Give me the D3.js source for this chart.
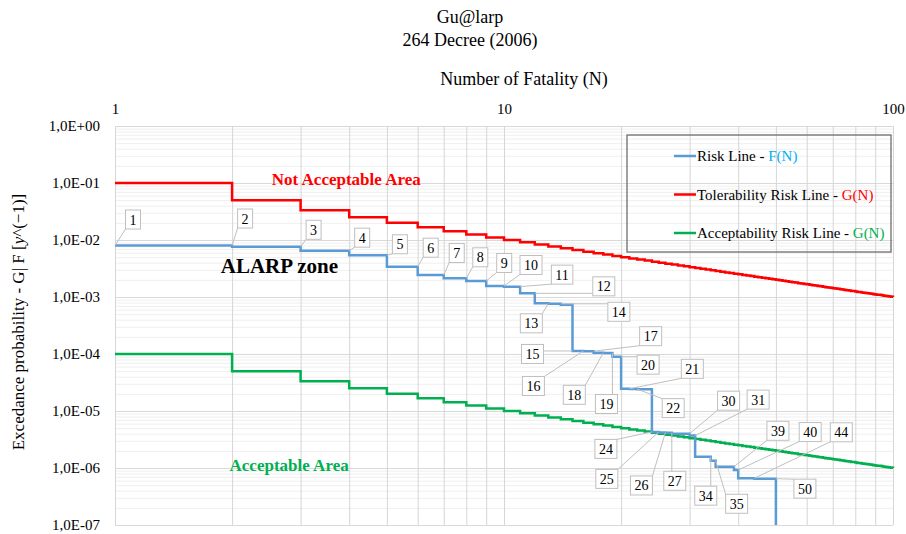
<!DOCTYPE html>
<html>
<head>
<meta charset="utf-8">
<script src="https://cdn.jsdelivr.net/npm/d3@7"></script>
<style>
  body { margin: 0; background: #fff; }
  text { font-family: "Liberation Serif", "Times New Roman", serif; }
</style>
</head>
<body>
<div id="chart-area"></div>
<script>
// number of fatalities N on the x axis
const fatalityN = d3.range(1, 101);

// Tolerability risk line G(N), one value per N = 1..100
const tolerabilityG = [
  1.00e-1, 5.00e-2, 3.33e-2, 2.50e-2, 2.00e-2, 1.67e-2, 1.43e-2, 1.25e-2, 1.11e-2, 1.00e-2,
  9.09e-3, 8.33e-3, 7.69e-3, 7.14e-3, 6.67e-3, 6.25e-3, 5.88e-3, 5.56e-3, 5.26e-3, 5.00e-3,
  4.76e-3, 4.55e-3, 4.35e-3, 4.17e-3, 4.00e-3, 3.85e-3, 3.70e-3, 3.57e-3, 3.45e-3, 3.33e-3,
  3.23e-3, 3.13e-3, 3.03e-3, 2.94e-3, 2.86e-3, 2.78e-3, 2.70e-3, 2.63e-3, 2.56e-3, 2.50e-3,
  2.44e-3, 2.38e-3, 2.33e-3, 2.27e-3, 2.22e-3, 2.17e-3, 2.13e-3, 2.08e-3, 2.04e-3, 2.00e-3,
  1.96e-3, 1.92e-3, 1.89e-3, 1.85e-3, 1.82e-3, 1.79e-3, 1.75e-3, 1.72e-3, 1.69e-3, 1.67e-3,
  1.64e-3, 1.61e-3, 1.59e-3, 1.56e-3, 1.54e-3, 1.52e-3, 1.49e-3, 1.47e-3, 1.45e-3, 1.43e-3,
  1.41e-3, 1.39e-3, 1.37e-3, 1.35e-3, 1.33e-3, 1.32e-3, 1.30e-3, 1.28e-3, 1.27e-3, 1.25e-3,
  1.23e-3, 1.22e-3, 1.20e-3, 1.19e-3, 1.18e-3, 1.16e-3, 1.15e-3, 1.14e-3, 1.12e-3, 1.11e-3,
  1.10e-3, 1.09e-3, 1.08e-3, 1.06e-3, 1.05e-3, 1.04e-3, 1.03e-3, 1.02e-3, 1.01e-3, 1.00e-3
];

// Acceptability risk line G(N), one value per N = 1..100
const acceptabilityG = [
  1.00e-4, 5.00e-5, 3.33e-5, 2.50e-5, 2.00e-5, 1.67e-5, 1.43e-5, 1.25e-5, 1.11e-5, 1.00e-5,
  9.09e-6, 8.33e-6, 7.69e-6, 7.14e-6, 6.67e-6, 6.25e-6, 5.88e-6, 5.56e-6, 5.26e-6, 5.00e-6,
  4.76e-6, 4.55e-6, 4.35e-6, 4.17e-6, 4.00e-6, 3.85e-6, 3.70e-6, 3.57e-6, 3.45e-6, 3.33e-6,
  3.23e-6, 3.13e-6, 3.03e-6, 2.94e-6, 2.86e-6, 2.78e-6, 2.70e-6, 2.63e-6, 2.56e-6, 2.50e-6,
  2.44e-6, 2.38e-6, 2.33e-6, 2.27e-6, 2.22e-6, 2.17e-6, 2.13e-6, 2.08e-6, 2.04e-6, 2.00e-6,
  1.96e-6, 1.92e-6, 1.89e-6, 1.85e-6, 1.82e-6, 1.79e-6, 1.75e-6, 1.72e-6, 1.69e-6, 1.67e-6,
  1.64e-6, 1.61e-6, 1.59e-6, 1.56e-6, 1.54e-6, 1.52e-6, 1.49e-6, 1.47e-6, 1.45e-6, 1.43e-6,
  1.41e-6, 1.39e-6, 1.37e-6, 1.35e-6, 1.33e-6, 1.32e-6, 1.30e-6, 1.28e-6, 1.27e-6, 1.25e-6,
  1.23e-6, 1.22e-6, 1.20e-6, 1.19e-6, 1.18e-6, 1.16e-6, 1.15e-6, 1.14e-6, 1.12e-6, 1.11e-6,
  1.10e-6, 1.09e-6, 1.08e-6, 1.06e-6, 1.05e-6, 1.04e-6, 1.03e-6, 1.02e-6, 1.01e-6, 1.00e-6
];

// Risk line F(N): labelled points (level reached just before each N)
const riskN = [1, 2, 3, 4, 5, 6, 7, 8, 9, 10, 11, 12, 13, 14, 15, 16, 17, 18, 19, 20,
  21, 22, 24, 25, 26, 27, 30, 31, 34, 35, 39, 40, 44, 50];
const riskF = [8.0e-3, 8.0e-3, 7.6e-3, 6.5e-3, 5.4e-3, 3.4e-3, 2.43e-3, 2.13e-3, 1.91e-3, 1.56e-3,
  1.52e-3, 1.16e-3, 7.75e-4, 7.6e-4, 7.3e-4, 1.13e-4, 1.12e-4, 1.05e-4, 1.04e-4, 8.97e-5,
  2.45e-5, 2.42e-5, 2.40e-5, 4.3e-6, 4.2e-6, 4.15e-6, 4.0e-6, 3.7e-6, 1.58e-6, 1.34e-6,
  1.05e-6, 9.2e-7, 6.6e-7, 6.5e-7];

const yTicks = [1e0, 1e-1, 1e-2, 1e-3, 1e-4, 1e-5, 1e-6, 1e-7];
const xTicks = [1, 10, 100];

// label box offsets from the point (px) and which corner of the step they point to
const labelLayout = [
  [18, -26], [13, -27], [13, -17], [13, -13], [13, -11], [13, -19], [13, -22], [14, -21],
  [18, -18], [27, -21], [42, -12], [69, -7], [-17, 20], [58, 8], [-40, 3, "low"], [-50, 35],
  [57, -15], [-29, 42], [-6, 51], [27, 8], [63, -20], [36, 19], [-46, 17, "low"], [-52, 47],
  [-24, 53], [3, 48], [39, -33], [63, -36], [-5, 39], [21, 43], [44, -36], [72, -38],
  [87, -46], [29, 10]
];

const margin = { left: 115, right: 13, top: 126, bottom: 9 };
const width = 906 - margin.left - margin.right;
const height = 534 - margin.top - margin.bottom;

const svg = d3.select("#chart-area")
  .append("svg")
  .attr("width", 906)
  .attr("height", 534);

const g = svg.append("g")
  .attr("transform", `translate(${margin.left}, ${margin.top})`);

const x = d3.scaleLog().domain([1, 100]).range([0, width]);
const y = d3.scaleLog().domain([1e-7, 1]).range([height, 0]);

// titles
svg.append("text")
  .attr("x", 470).attr("y", 23)
  .attr("text-anchor", "middle")
  .attr("font-size", "18px")
  .text("Gu@larp");
svg.append("text")
  .attr("x", 470).attr("y", 46)
  .attr("text-anchor", "middle")
  .attr("font-size", "18px")
  .text("264 Decree (2006)");

// x-axis label
svg.append("text")
  .attr("x", 524).attr("y", 85)
  .attr("text-anchor", "middle")
  .attr("font-size", "18px")
  .text("Number of Fatality (N)");

// y-axis label
const yLabel = svg.append("text")
  .attr("transform", "translate(24, 322) rotate(-90)")
  .attr("text-anchor", "middle")
  .attr("font-size", "17px");
yLabel.append("tspan").text("Excedance probability - G| F  [");
yLabel.append("tspan").attr("font-style", "italic").text("y");
yLabel.append("tspan").text("^(\u22121)]");

// grid lines
const minorY = [];
yTicks.slice(0, -1).forEach(d => {
  for (let k = 2; k <= 9; k++) minorY.push(d * k / 10);
});
const gridX = [1, 2, 3, 4, 5, 6, 7, 8, 9, 10, 20, 30, 40, 50, 60, 70, 80, 90, 100];

g.append("g")
  .attr("class", "grid-minor-y")
  .call(d3.axisLeft(y).tickValues(minorY).tickSize(-width).tickFormat(""))
  .call(a => a.select(".domain").remove())
  .selectAll("line").attr("stroke", "#efefef");

g.append("g")
  .attr("class", "grid-y")
  .call(d3.axisLeft(y).tickValues(yTicks).tickSize(-width).tickFormat(""))
  .call(a => a.select(".domain").remove())
  .selectAll("line").attr("stroke", "#d9d9d9");

g.append("g")
  .attr("class", "grid-x")
  .attr("transform", `translate(0, ${height})`)
  .call(d3.axisBottom(x).tickValues(gridX).tickSize(-height).tickFormat(""))
  .call(a => a.select(".domain").remove())
  .selectAll("line").attr("stroke", "#d6d6d6");

// axes
const xAxisGroup = g.append("g")
  .attr("class", "x-axis")
  .call(d3.axisTop(x).tickValues(xTicks).tickSize(0).tickPadding(12).tickFormat(d3.format("d")));
xAxisGroup.select(".domain").remove();
xAxisGroup.selectAll("text")
  .attr("font-family", "Liberation Serif, serif")
  .attr("font-size", "15px")
  .attr("fill", "#000");

const yFormat = d => {
  const e = Math.round(Math.log10(d));
  return "1,0E" + (e < 0 ? "-" : "+") + String(Math.abs(e)).padStart(2, "0");
};
const yAxisGroup = g.append("g")
  .attr("class", "y-axis")
  .call(d3.axisLeft(y).tickValues(yTicks).tickSize(0).tickPadding(15).tickFormat(yFormat));
yAxisGroup.select(".domain").remove();
yAxisGroup.selectAll("text")
  .attr("font-family", "Liberation Serif, serif")
  .attr("font-size", "15px")
  .attr("fill", "#000");

// clip to plot area
g.append("clipPath").attr("id", "plot-clip")
  .append("rect").attr("x", -2).attr("y", -2).attr("width", width + 4).attr("height", height + 2);

const lines = g.append("g").attr("clip-path", "url(#plot-clip)");

const stepAfter = d3.line()
  .x(d => x(d[0]))
  .y(d => y(d[1]))
  .curve(d3.curveStepAfter);

lines.append("path")
  .datum(fatalityN.map((n, i) => [n, acceptabilityG[i]]))
  .attr("fill", "none")
  .attr("stroke", "#00b050")
  .attr("stroke-width", 2.5)
  .attr("d", stepAfter);

lines.append("path")
  .datum(fatalityN.map((n, i) => [n, tolerabilityG[i]]))
  .attr("fill", "none")
  .attr("stroke", "#ff0000")
  .attr("stroke-width", 2.5)
  .attr("d", stepAfter);

const riskData = riskN.map((n, i) => [n, riskF[i]]);
const riskLine = d3.line()
  .x(d => x(d[0]))
  .y(d => y(d[1]))
  .curve(d3.curveStepBefore);

const last = riskData[riskData.length - 1];
lines.append("path")
  .datum(riskData)
  .attr("fill", "none")
  .attr("stroke", "#5b9bd5")
  .attr("stroke-width", 2.5)
  .attr("d", d => riskLine(d) + `V${height + 2}`);

// area annotations
g.append("text")
  .attr("x", x(2.53)).attr("y", y(0.092))
  .attr("font-size", "17px").attr("font-weight", "bold")
  .attr("fill", "#ff0000")
  .text("Not Acceptable Area");

g.append("text")
  .attr("x", x(1.87)).attr("y", y(2.6e-3))
  .attr("font-size", "21px").attr("font-weight", "bold")
  .attr("fill", "#000")
  .text("ALARP zone");

g.append("text")
  .attr("x", x(1.97)).attr("y", y(8.7e-7))
  .attr("font-size", "17px").attr("font-weight", "bold")
  .attr("fill", "#00b050")
  .text("Acceptable Area");

// data labels with leader lines
const labels = g.append("g").attr("class", "data-labels");
riskData.forEach((d, i) => {
  const lay = labelLayout[i];
  const px = x(d[0]);
  const py = lay[2] === "low" ? y(riskData[i + 1][1]) : y(d[1]);
  const cx = px + lay[0];
  const cy = py + lay[1];
  const t = labels.append("text")
    .attr("x", cx).attr("y", cy + 5)
    .attr("text-anchor", "middle")
    .attr("font-size", "14px")
    .text(d[0]);
  const w = t.node().getComputedTextLength() + 8;
  const h = 19;
  const bx0 = cx - w / 2, bx1 = cx + w / 2, by0 = cy - h / 2, by1 = cy + h / 2;
  const ex = Math.max(bx0, Math.min(bx1, px));
  const ey = Math.max(by0, Math.min(by1, py));
  labels.insert("line", "text")
    .attr("x1", px).attr("y1", py).attr("x2", ex).attr("y2", ey)
    .attr("stroke", "#bfbfbf").attr("stroke-width", 1);
  labels.insert("rect", "text")
    .attr("x", bx0).attr("y", by0).attr("width", w).attr("height", h)
    .attr("fill", "#fff").attr("stroke", "#bfbfbf").attr("stroke-width", 1);
  t.raise();
});

// legend
const legend = svg.append("g").attr("class", "legend");
legend.append("rect")
  .attr("x", 627).attr("y", 135).attr("width", 264).attr("height", 117)
  .attr("fill", "none").attr("stroke", "#6e6e6e").attr("stroke-width", 1.3);

const legendItems = [
  { label: "Risk Line - ", tag: "F(N)", line: "#5b9bd5", tagColor: "#00b0f0" },
  { label: "Tolerability Risk Line - ", tag: "G(N)", line: "#ff0000", tagColor: "#ff0000" },
  { label: "Acceptability Risk Line - ", tag: "G(N)", line: "#00b050", tagColor: "#00b050" }
];
legendItems.forEach((item, i) => {
  const ly = 156 + i * 38.5;
  legend.append("line")
    .attr("x1", 674).attr("x2", 696).attr("y1", ly).attr("y2", ly)
    .attr("stroke", item.line).attr("stroke-width", 2.5);
  const lt = legend.append("text")
    .attr("x", 697).attr("y", ly + 5)
    .attr("font-size", "15px");
  lt.append("tspan").attr("fill", "#000").text(item.label);
  lt.append("tspan").attr("fill", item.tagColor).text(item.tag);
});
</script>
</body>
</html>
